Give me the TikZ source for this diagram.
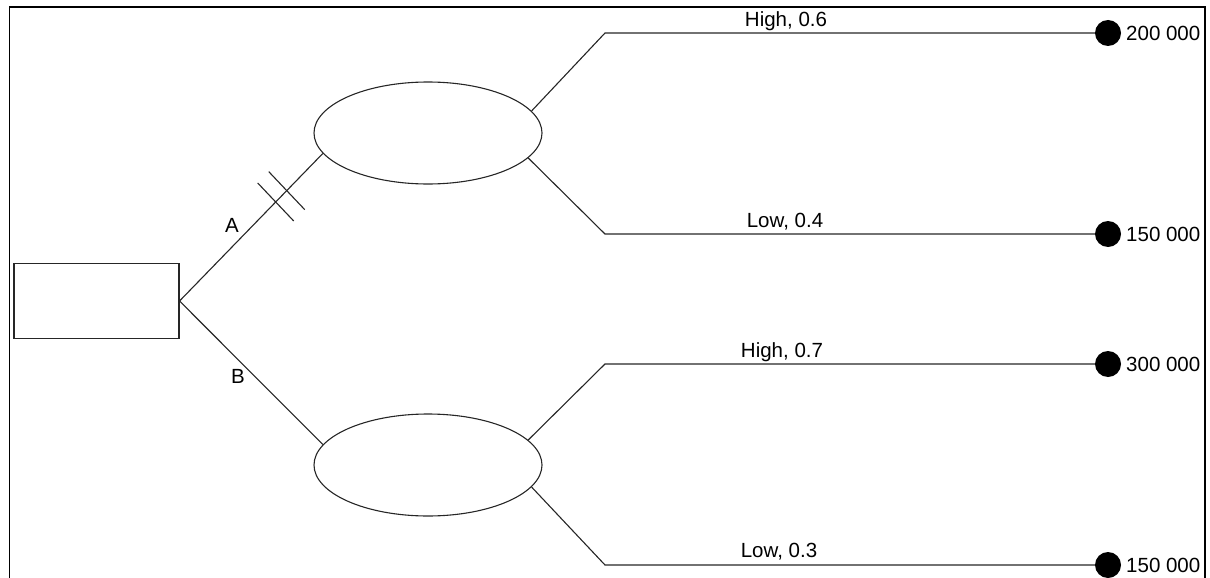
\documentclass[tikz,border=0pt]{standalone}
\usepackage{fontspec}
\setmainfont{Liberation Sans}
\usetikzlibrary{shapes.geometric,calc}

\begin{document}
\begin{tikzpicture}[x=1pt,y=-1pt,
  branch/.style={draw=black!85,line width=1.1pt},
  decision/.style={draw=black!85,line width=1.1pt,rectangle,minimum width=165pt,minimum height=75pt,inner sep=0pt},
  chance/.style={draw=black!85,line width=1.1pt,ellipse,minimum width=228pt,minimum height=102pt,inner sep=0pt},
  payoff/.style={circle,fill=black,minimum size=26pt,inner sep=0pt},
  txt/.style={font=\fontsize{20.5}{24}\selectfont,inner sep=0pt},
  lbl/.style={txt,anchor=base},
  val/.style={txt,anchor=base west}
]
\useasboundingbox (0,0) rectangle (1210,578);

% open frame (left, top, right)
\draw[line width=1.6pt] (9.5,578) -- (9.5,7) -- (1205,7) -- (1205,578);

% decision node and the two chance nodes
\node[decision] (dec) at (96.5,301) {};
\node[chance] (c1) at (428,133) {};
\node[chance] (c2) at (428,465) {};

% end points of the outcome branches
\coordinate (k1) at (605,33);
\coordinate (k2) at (605,234);
\coordinate (k3) at (605,364);
\coordinate (k4) at (605,565);
\node[payoff] (p1) at (1108,33) {};
\node[payoff] (p2) at (1108,234) {};
\node[payoff] (p3) at (1108,364) {};
\node[payoff] (p4) at (1108,565) {};

% decision branches
\draw[branch] (dec.east) -- (c1.191)
  coordinate[pos=0.671] (t1) coordinate[pos=0.748] (t2);
\draw[branch] (dec.east) -- (c2.169);

% double bar marking the rejected option
\draw[branch] ($(t1)+(-18,-19)$) -- ($(t1)+(18,19)$);
\draw[branch] ($(t2)+(-18,-19)$) -- ($(t2)+(18,19)$);

\node[lbl] (la) at (232,232) {A};
\node[lbl] (lb) at (238,383) {B};

% outcome branches
\draw[branch] (c1.12.8) -- (k1) -- (p1);
\draw[branch] (c1.-14) -- (k2) -- (p2);
\draw[branch] (c2.14) -- (k3) -- (p3);
\draw[branch] (c2.-12.8) -- (k4) -- (p4);

\node[lbl] (h1) at (786,26.5) {High, 0.6};
\node[lbl] (l1) at (785,227) {Low, 0.4};
\node[lbl] (h2) at (782,357.5) {High, 0.7};
\node[lbl] (l2) at (779,557.5) {Low, 0.3};

% payoffs
\node[val] (v1) at (1126,40.5) {200 000};
\node[val] (v2) at (1126,241.5) {150 000};
\node[val] (v3) at (1126,371.5) {300 000};
\node[val] (v4) at (1126,572.5) {150 000};
\end{tikzpicture}
\end{document}
